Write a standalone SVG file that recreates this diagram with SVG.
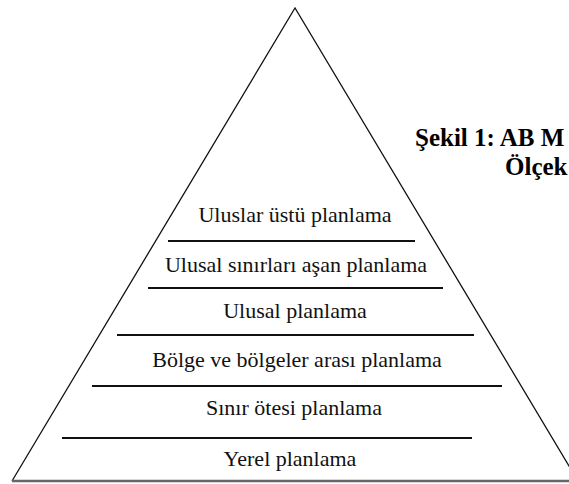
<svg xmlns="http://www.w3.org/2000/svg" width="569" height="484" viewBox="0 0 569 484">
<style>
.lbl{font-family:"Liberation Serif","Times New Roman",serif;font-size:22px;fill:#111;text-anchor:middle}
.ttl{font-family:"Liberation Serif","Times New Roman",serif;font-size:25px;font-weight:bold;fill:#000}
.sep{stroke:#111;stroke-width:2}
</style>
<rect width="569" height="484" fill="#fff"/>
<g id="pyramid">
<path d="M12,481 L295,8 L578,481" fill="none" stroke="#111" stroke-width="1.3"/>
<line x1="12" y1="481" x2="569" y2="481" stroke="#666" stroke-width="2.5"/>
</g>
<g id="connectors">
<line class="sep" x1="168" y1="241" x2="415" y2="241"/>
<line class="sep" x1="148" y1="288" x2="443" y2="288"/>
<line class="sep" x1="117" y1="335" x2="474" y2="335"/>
<line class="sep" x1="92" y1="386" x2="502" y2="386"/>
<line class="sep" x1="62" y1="438" x2="472" y2="438"/>
</g>
<g id="n1"><text class="lbl" x="295" y="222">Uluslar üstü planlama</text></g>
<g id="n2"><text class="lbl" x="296" y="272">Ulusal sınırları aşan planlama</text></g>
<g id="n3"><text class="lbl" x="295" y="318">Ulusal planlama</text></g>
<g id="n4"><text class="lbl" x="297" y="367">Bölge ve bölgeler arası planlama</text></g>
<g id="n5"><text class="lbl" x="294" y="415">Sınır ötesi planlama</text></g>
<g id="n6"><text class="lbl" x="290" y="466">Yerel planlama</text></g>
<g id="title">
<text class="ttl" x="415" y="146">Şekil 1: AB M</text>
<text class="ttl" x="505" y="175">Ölçek</text>
</g>
</svg>
